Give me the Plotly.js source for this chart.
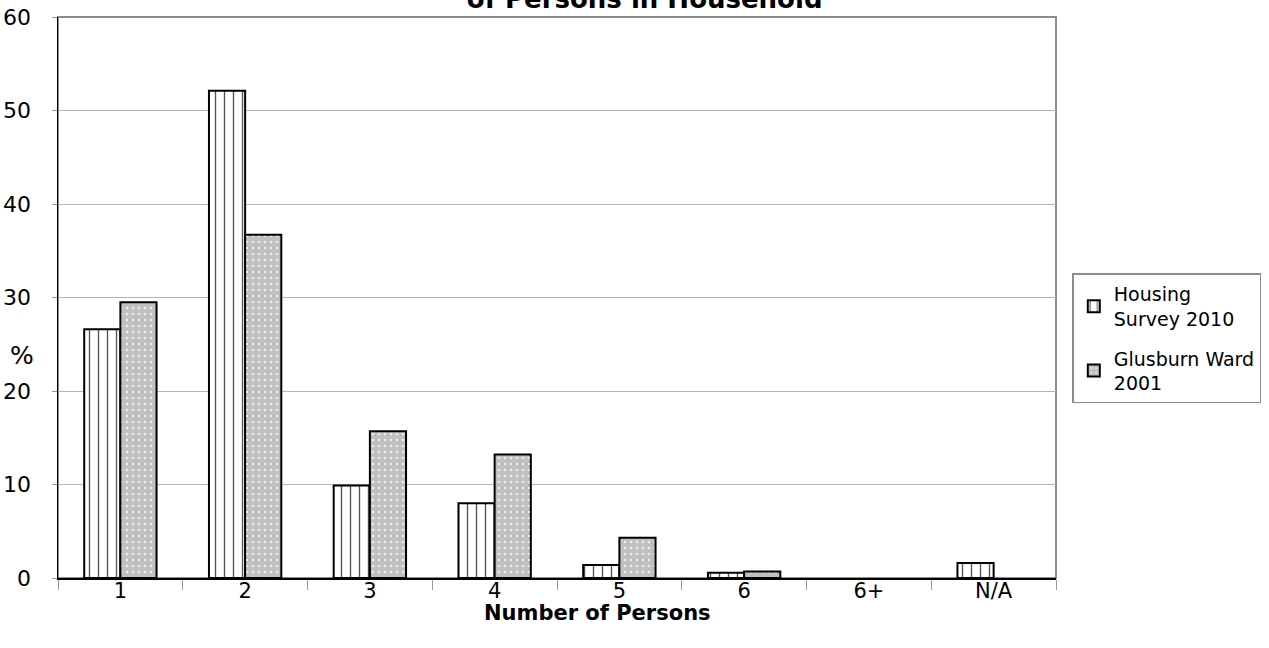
<!DOCTYPE html>
<html>
<head>
<meta charset="utf-8">
<script src="https://cdn.plot.ly/plotly-3.0.1.min.js"></script>
<style>html,body{margin:0;padding:0;background:#fff;}#chart{width:1269px;height:648px;}</style>
</head>
<body>
<div id="chart"></div>
<script>
const categories = ["1", "2", "3", "4", "5", "6", "6+", "N/A"];
const housingSurvey2010 = [26.6, 52.1, 9.9, 8.0, 1.4, 0.55, null, 1.6];
const glusburnWard2001 = [29.5, 36.7, 15.7, 13.2, 4.3, 0.7, null, null];
const seriesNames = ["Housing<br>Survey 2010", "Glusburn Ward<br>2001"];

const FONT = "DejaVu Sans, Verdana, sans-serif";

const traces = [
  {
    type: "bar", name: seriesNames[0], x: categories, y: housingSurvey2010,
    legendgroup: "g1",
    marker: {
      color: "#ffffff",
      line: {color: "#000000", width: 2},
      pattern: {shape: "|", fgcolor: "#555555", bgcolor: "#ffffff", size: 9, solidity: 0.15}
    },
    hoverinfo: "x+y"
  },
  {
    type: "bar", name: seriesNames[1], x: categories, y: glusburnWard2001,
    legendgroup: "g2",
    marker: {
      color: "#c0c0c0",
      line: {color: "#000000", width: 2},
      pattern: {shape: ".", fgcolor: "#eeeeee", bgcolor: "#c0c0c0", size: 6, solidity: 0.15}
    },
    hoverinfo: "x+y"
  }
];

const layout = {
  width: 1269, height: 648,
  margin: {l: 58, r: 213, t: 17, b: 70, pad: 0},
  paper_bgcolor: "#ffffff", plot_bgcolor: "#ffffff",
  font: {family: FONT, size: 21, color: "#000"},
  barmode: "group", bargap: 0.42, bargroupgap: 0,
  title: {
    text: "<b>of Persons in Household</b>",
    font: {family: FONT, size: 26, color: "#000"},
    x: 0.508, xanchor: "center", xref: "container",
    y: 0.988, yanchor: "bottom", yref: "container"
  },
  xaxis: {
    type: "category",
    showline: true, linecolor: "#000", linewidth: 1.5,
    ticks: "outside", tickson: "boundaries", ticklen: 10, tickcolor: "#999", tickwidth: 1,
    tickfont: {family: FONT, size: 21, color: "#000"},
    ticklabelstandoff: -7,
    showgrid: false,
    automargin: false
  },
  yaxis: {
    range: [0, 60], dtick: 10,
    showline: true, linecolor: "#000", linewidth: 1.5,
    ticks: "outside", ticklen: 5, tickcolor: "#999",
    tickfont: {family: FONT, size: 22, color: "#000"},
    ticklabelstandoff: 16,
    showgrid: true, gridcolor: "#b4b4b4", gridwidth: 1,
    zeroline: false,
    automargin: false
  },
  shapes: [
    {type: "rect", xref: "paper", yref: "paper", x0: 0, x1: 1, y0: 0, y1: 1,
     line: {color: "#8c8c8c", width: 2}, layer: "below"}
  ],
  annotations: [
    {text: "%", xref: "paper", yref: "paper", x: -0.036, y: 0.396, xanchor: "center", yanchor: "middle",
     showarrow: false, font: {family: FONT, size: 25, color: "#000"}},
    {text: "<b>Number of Persons</b>", xref: "paper", yref: "paper", x: 0.541, y: -0.062,
     xanchor: "center", yanchor: "middle", showarrow: false,
     font: {family: FONT, size: 21, color: "#000"}}
  ],
  legend: {
    xref: "container", yref: "container",
    x: 0.845, xanchor: "left", y: 0.578, yanchor: "top",
    bordercolor: "#8c8c8c", borderwidth: 1.5, bgcolor: "#fff",
    font: {family: FONT, size: 19, color: "#000"},
    itemwidth: 30, tracegroupgap: 12, traceorder: "grouped"
  },
  showlegend: true
};

Plotly.newPlot("chart", traces, layout, {displayModeBar: false, staticPlot: true});
</script>
</body>
</html>
